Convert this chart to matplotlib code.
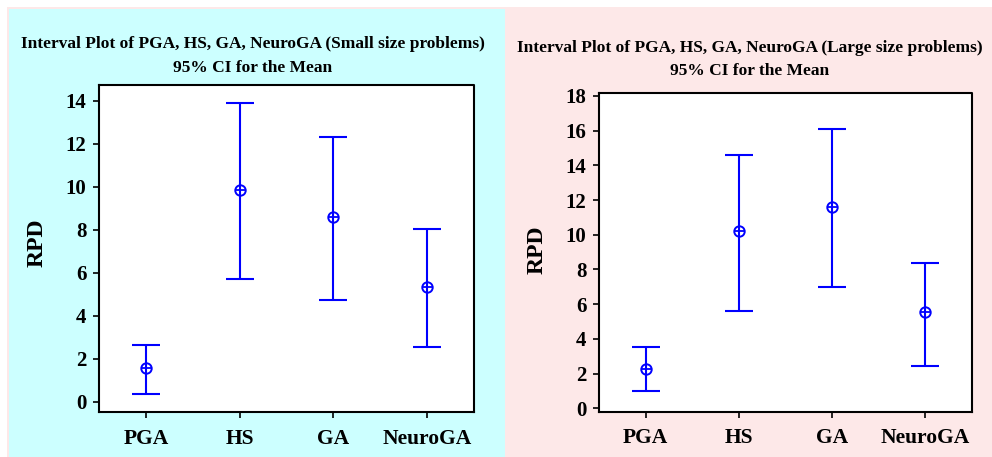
import matplotlib.pyplot as plt
import matplotlib.patches as mpatches

# data (95% CI for the mean)
methods = ["PGA", "HS", "GA", "NeuroGA"]

small_mean = [1.55, 9.85, 8.58, 5.32]
small_low = [0.36, 5.71, 4.74, 2.54]
small_high = [2.64, 13.90, 12.33, 8.02]

large_mean = [2.25, 10.22, 11.58, 5.53]
large_low = [1.01, 5.61, 6.99, 2.42]
large_high = [3.52, 14.60, 16.12, 8.39]

small_ticks = [0, 2, 4, 6, 8, 10, 12, 14]
large_ticks = [0, 2, 4, 6, 8, 10, 12, 14, 16, 18]

BLUE = "#0000ff"
CYAN = "#ccffff"
PINK = "#fde8e8"
FONT = "Liberation Serif"

W, H = 992, 457
fig = plt.figure(figsize=(W / 100, H / 100), dpi=100, facecolor="white")

# panel backgrounds
fig.patches.append(mpatches.Rectangle((7 / W, 0), 1 - 7 / W, 1 - 7 / H, transform=fig.transFigure,
                                      facecolor=PINK, edgecolor="none", zorder=-2))
fig.patches.append(mpatches.Rectangle((9 / W, 0), (505 - 9) / W, 1 - 9 / H, transform=fig.transFigure,
                                      facecolor=CYAN, edgecolor="none", zorder=-1))


def interval_panel(rect, mean, low, high, ticks, ylim, title, title_xy, label_xy):
    ax = fig.add_axes(rect)
    ax.set_facecolor("white")
    xs = list(range(1, len(methods) + 1))
    err = [[m - l for m, l in zip(mean, low)], [h - m for m, h in zip(mean, high)]]
    ax.errorbar(xs, mean, yerr=err, fmt="none", ecolor=BLUE, elinewidth=1.5,
                capsize=10, capthick=1.5, zorder=3)
    # Minitab style mean symbol: circle with a cross
    ax.plot(xs, mean, "o", ms=7.5, mfc="none", mec=BLUE, mew=1.4, zorder=4)
    ax.plot(xs, mean, "+", ms=7.5, mec=BLUE, mew=1.3, zorder=4)
    ax.set_xlim(0.5, 4.5)
    ax.set_ylim(*ylim)
    ax.set_xticks(xs)
    ax.set_xticklabels(methods)
    ax.set_yticks(ticks)
    for spine in ["top", "right"]:
        ax.spines[spine].set_visible(False)
    for spine in ["left", "bottom"]:
        ax.spines[spine].set_linewidth(1.5)
    ax.plot([0, 1, 1], [1, 1, 0], transform=ax.transAxes, color="black", lw=1.5, clip_on=False)
    ax.tick_params(direction="out", length=4, width=1.2, pad=5)
    for lab in ax.get_xticklabels():
        lab.set_fontfamily(FONT)
        lab.set_fontweight("bold")
        lab.set_fontsize(15.5)
    for lab in ax.get_yticklabels():
        lab.set_fontfamily(FONT)
        lab.set_fontweight("bold")
        lab.set_fontsize(15)
    ax.tick_params(axis="x", pad=8)

    fig.text(title_xy[0], title_xy[1], title, ha="center", va="center", family=FONT,
             fontweight="bold", fontsize=12.5, linespacing=1.6)
    fig.text(label_xy[0], label_xy[1], "RPD", ha="center", va="center", rotation=90,
             family=FONT, fontweight="bold", fontsize=17)
    return ax


interval_panel([99 / W, 1 - 412 / H, 375 / W, 327 / H], small_mean, small_low, small_high,
               small_ticks, (-0.48, 14.73),
               "Interval Plot of PGA, HS, GA, NeuroGA (Small size problems)\n95% CI for the Mean",
               (253 / W, 1 - 56 / H), (37 / W, 1 - 243 / H))

interval_panel([599 / W, 1 - 411.7 / H, 373 / W, 319 / H], large_mean, large_low, large_high,
               large_ticks, (-0.2, 18.19),
               "Interval Plot of PGA, HS, GA, NeuroGA (Large size problems)\n95% CI for the Mean",
               (750 / W, 1 - 59.5 / H), (537 / W, 1 - 250 / H))

fig.savefig("out.png", dpi=100, facecolor=fig.get_facecolor())
